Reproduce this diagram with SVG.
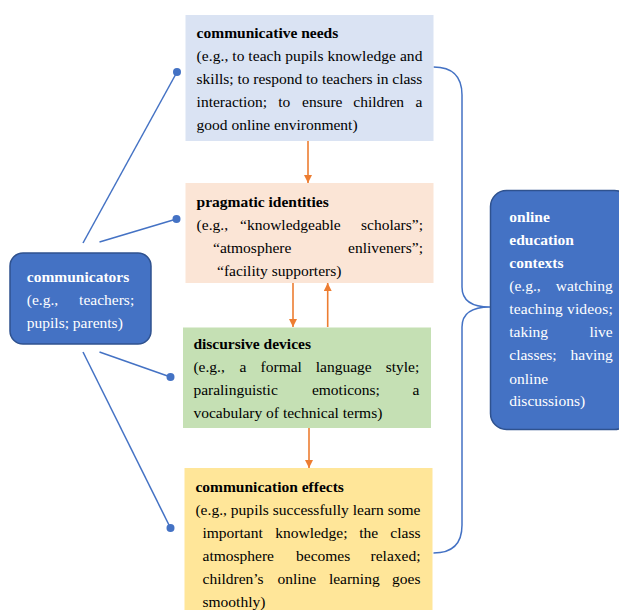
<svg xmlns="http://www.w3.org/2000/svg" width="619" height="610" viewBox="0 0 619 610">
<style>
text{font-family:'Liberation Serif','Tinos','DejaVu Serif',serif;font-size:15.5px;fill:#000}
.b{font-weight:bold}
.w{fill:#fff}
.e{text-anchor:end}
.link{stroke:#4472C4;stroke-width:1.5;fill:none}
.dot{fill:#4472C4}
.arr{stroke:#ED7D31;stroke-width:1.6;fill:none;marker-end:url(#ah)}
.blue{fill:#4472C4;stroke:#2F528F;stroke-width:1.5}
</style>
<defs>
<marker id="ah" viewBox="0 0 10 10" refX="10" refY="5" markerWidth="5" markerHeight="5" orient="auto" markerUnits="strokeWidth">
<path d="M0,0 L10,5 L0,10 z" fill="#ED7D31"/>
</marker>
</defs>
<rect width="619" height="610" fill="#fff"/>

<g id="connectors">
<line class="link" x1="83" y1="243" x2="177" y2="72"/>
<circle class="dot" cx="177" cy="72" r="4"/>
<line class="link" x1="99.5" y1="242" x2="176.5" y2="219"/>
<circle class="dot" cx="176.5" cy="219" r="4"/>
<line class="link" x1="99.5" y1="352" x2="170.5" y2="377"/>
<circle class="dot" cx="170.5" cy="377" r="4"/>
<line class="link" x1="83" y1="352" x2="170.5" y2="528"/>
<circle class="dot" cx="170.5" cy="528" r="4"/>
<path class="link" d="M433.5,67 Q462,67 462,95 L462,287 Q462,307 490,307 Q462,307 462,327 L462,525 Q462,553 433.5,553"/>
<line class="arr" x1="308" y1="141" x2="308" y2="183"/>
<line class="arr" x1="293" y1="283" x2="293" y2="327"/>
<line class="arr" x1="327.7" y1="327" x2="327.7" y2="283"/>
<line class="arr" x1="309" y1="428" x2="309" y2="468"/>
</g>

<g id="needs" font-family="Liberation Serif, serif">
<rect x="185.5" y="15" width="248" height="126" fill="#DAE3F3"/>
<text class="b" x="196.6" y="38">communicative needs</text>
<text x="196.6" y="61" textLength="225.8" lengthAdjust="spacing">(e.g., to teach pupils knowledge and</text>
<text x="196.6" y="84" textLength="225.8" lengthAdjust="spacing">skills; to respond to teachers in class</text>
<text y="107"><tspan x="196.6">interaction;</tspan><tspan x="278.3">to</tspan><tspan x="302">ensure</tspan><tspan x="353.3">children</tspan></text>
<text class="e" x="422.4" y="107">a</text>
<text x="196.6" y="130">good online environment)</text>
</g>

<g id="identities">
<rect x="185.5" y="183" width="248" height="100" fill="#FBE5D6"/>
<text class="b" x="196.6" y="206.5">pragmatic identities</text>
<text y="229.5"><tspan x="196.6">(e.g.,</tspan><tspan x="240">“knowledgeable</tspan></text>
<text class="e" x="423" y="229.5">scholars”;</text>
<text x="213" y="252.5">“atmosphere</text>
<text class="e" x="423" y="252.5">enliveners”;</text>
<text x="217" y="275.5">“facility supporters)</text>
</g>

<g id="devices">
<rect x="183" y="327.5" width="248" height="100.5" fill="#C5E0B4"/>
<text class="b" x="193.4" y="349">discursive devices</text>
<text y="372"><tspan x="193.4">(e.g.,</tspan><tspan x="239.6">a</tspan><tspan x="260.6">formal</tspan><tspan x="315.8">language</tspan></text>
<text class="e" x="419.3" y="372">style;</text>
<text y="395"><tspan x="193.4">paralinguistic</tspan><tspan x="311.9">emoticons;</tspan></text>
<text class="e" x="419.3" y="395">a</text>
<text x="193.4" y="418">vocabulary of technical terms)</text>
</g>

<g id="effects">
<rect x="184.5" y="468" width="248" height="142" fill="#FFE699"/>
<text class="b" x="195.4" y="491.5">communication effects</text>
<text x="195.4" y="514.5" textLength="225.1" lengthAdjust="spacing">(e.g., pupils successfully learn some</text>
<text y="537.5"><tspan x="202.5">important</tspan><tspan x="275.2">knowledge;</tspan><tspan x="359.3">the</tspan></text>
<text class="e" x="420.5" y="537.5">class</text>
<text y="560.5"><tspan x="202.5">atmosphere</tspan><tspan x="296">becomes</tspan></text>
<text class="e" x="420.5" y="560.5">relaxed;</text>
<text y="583.5"><tspan x="202.5">children’s</tspan><tspan x="277.5">online</tspan><tspan x="328.9">learning</tspan></text>
<text class="e" x="420.5" y="583.5">goes</text>
<text x="202.5" y="606.5">smoothly)</text>
</g>

<g id="communicators">
<rect class="blue" x="10" y="253" width="141" height="91" rx="13"/>
<text class="b w" x="26.8" y="281.5">communicators</text>
<text class="w" x="26.8" y="304.5">(e.g.,</text>
<text class="w e" x="134.2" y="304.5">teachers;</text>
<text class="w" x="26.8" y="327.5">pupils; parents)</text>
</g>

<g id="contexts">
<rect class="blue" x="490.5" y="190.5" width="140" height="239" rx="16"/>
<text class="b w" x="509.3" y="222">online</text>
<text class="b w" x="509.3" y="245">education</text>
<text class="b w" x="509.3" y="268">contexts</text>
<text class="w" x="509.3" y="291">(e.g.,</text>
<text class="w e" x="612.7" y="291">watching</text>
<text class="w" x="509.3" y="314" textLength="103.4" lengthAdjust="spacing">teaching videos;</text>
<text class="w" x="509.3" y="337">taking</text>
<text class="w e" x="612.7" y="337">live</text>
<text class="w" x="509.3" y="360">classes;</text>
<text class="w e" x="612.7" y="360">having</text>
<text class="w" x="509.3" y="383.5">online</text>
<text class="w" x="509.3" y="406">discussions)</text>
</g>
</svg>
